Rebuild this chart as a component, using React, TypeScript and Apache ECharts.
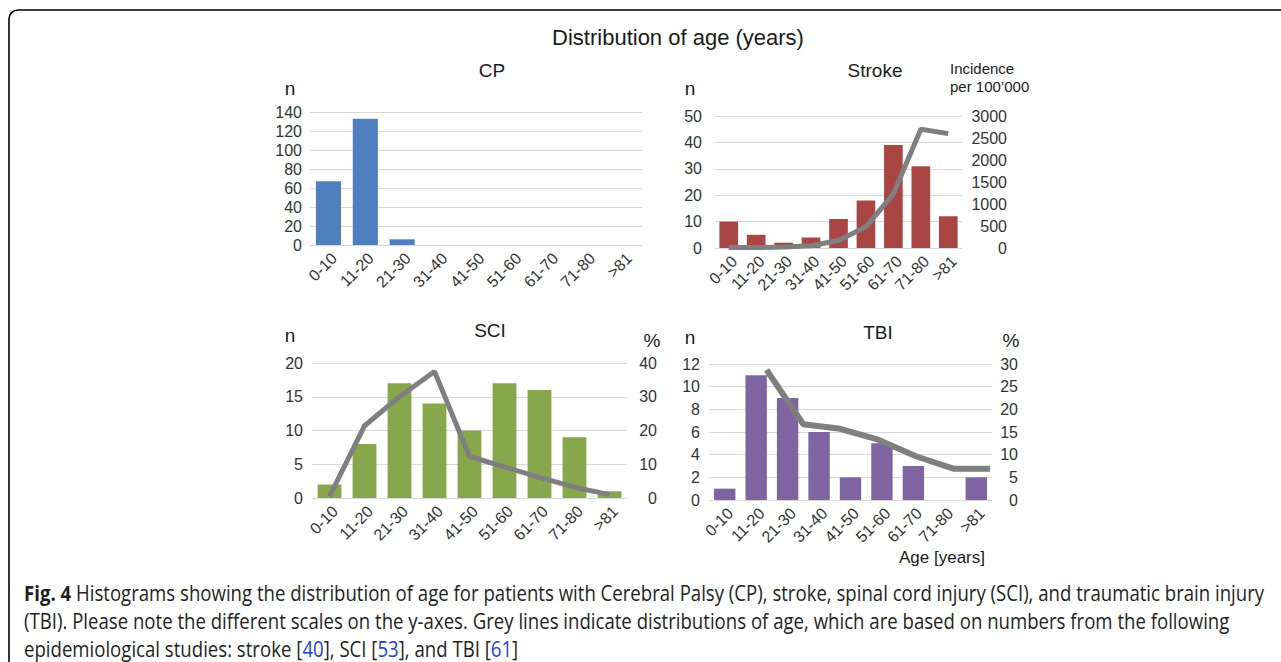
import React, { useEffect, useRef } from "react";
import * as echarts from "echarts";

const categories = ["0-10", "11-20", "21-30", "31-40", "41-50", "51-60", "61-70", "71-80", ">81"];
const cpCounts = [67, 133, 6, 0, 0, 0, 0, 0, 0];
const strokeCounts = [10, 5, 2, 4, 11, 18, 39, 31, 12];
const strokeIncidence = [10, 10, 20, 50, 170, 480, 1230, 2700, 2600];
const sciCounts = [2, 8, 17, 14, 10, 17, 16, 9, 1];
const sciPercent = [0.5, 21.4, 30, 37.5, 12.3, 9.2, 6.1, 3.2, 1];
const tbiCounts = [1, 11, 9, 6, 2, 5, 3, 0, 2];
const tbiLinePos = [1.33, 2.5, 3.67, 4.88, 6.1, 7.27, 8.44];
const tbiPercent = [28.7, 16.7, 15.7, 13.3, 9.6, 6.9, 6.9];

const captionLine1Bold = "Fig. 4";
const captionLine1 = " Histograms showing the distribution of age for patients with Cerebral Palsy (CP), stroke, spinal cord injury (SCI), and traumatic brain injury";
const captionLine2 = "(TBI). Please note the different scales on the y-axes. Grey lines indicate distributions of age, which are based on numbers from the following";
const captionLine3Parts = ["epidemiological studies: stroke [", "40", "], SCI [", "53", "], and TBI [", "61", "]"];

const FONT = "Arial";
const CAP_FONT = "Open Sans";
const CAP_SIZE = 21;
const LABEL_COLOR = "#333333";
const GRID_COLOR = "#d9d9d9";
const LINE_COLOR = "#7f7f7f";

export default function App() {
  const ref = useRef<HTMLDivElement>(null);

  useEffect(() => {
    document.body.style.margin = "0";
    if (!ref.current) return;
    const chart = echarts.init(ref.current, null, { renderer: "svg" });

    const cv = document.createElement("canvas");
    const ctx = cv.getContext("2d")!;
    ctx.font = `bold ${CAP_SIZE}px 'Open Sans'`;
    const wb = ctx.measureText(captionLine1Bold).width;
    ctx.font = `${CAP_SIZE}px 'Open Sans'`;
    const wn = ctx.measureText(captionLine1).width;
    const capScale = (1265 - 24) / (wb + wn);

    const gridsPx = [
      { left: 310, top: 112, width: 332, height: 133 },
      { left: 715, top: 116, width: 247, height: 132 },
      { left: 312, top: 363, width: 315, height: 135 },
      { left: 709, top: 364, width: 283, height: 136 },
    ];

    const catAxis = (gridIndex: number) => ({
      type: "category",
      gridIndex,
      data: categories,
      axisLine: { show: false },
      axisTick: { show: false },
      axisLabel: {
        rotate: 45,
        margin: 5,
        fontSize: 16,
        color: LABEL_COLOR,
        fontFamily: FONT,
        interval: 0,
        verticalAlign: "top",
      },
    });

    const valAxis = (gridIndex: number, max: number, interval: number, position: string, margin: number, split: boolean) => ({
      type: "value",
      gridIndex,
      position,
      min: 0,
      max,
      interval,
      axisLine: { show: false },
      axisTick: { show: false },
      splitLine: { show: split, lineStyle: { color: GRID_COLOR, width: 1 } },
      axisLabel: {
        fontSize: 16,
        color: LABEL_COLOR,
        fontFamily: FONT,
        margin,
        align: "right",
        formatter: (v: number) => String(v),
      },
    });

    const barColors = ["#4f80bd", "#a94643", "#87a74c", "#8064a2"];
    const barCounts = [cpCounts, strokeCounts, sciCounts, tbiCounts];

    const lineStyle = { color: LINE_COLOR, width: 5 };

    const textEl = (text: string, x: number, y: number, size: number, align = "center", color = "#1a1a1a") => ({
      type: "text",
      x,
      y,
      style: { text, fontSize: size, fontFamily: FONT, fill: color, align, verticalAlign: "middle" },
    });

    const option: any = {
      animation: false,
      backgroundColor: "#ffffff",
      grid: gridsPx.map((g) => ({ ...g, containLabel: false })),
      xAxis: [
        catAxis(0),
        catAxis(1),
        catAxis(2),
        catAxis(3),
        { type: "value", gridIndex: 3, min: -0.5, max: 8.5, show: false },
      ],
      yAxis: [
        valAxis(0, 140, 20, "left", 8, true),
        valAxis(1, 50, 10, "left", 13, true),
        valAxis(1, 3000, 500, "right", 45, false),
        valAxis(2, 20, 5, "left", 9, true),
        valAxis(2, 40, 10, "right", 30, false),
        valAxis(3, 12, 2, "left", 9, true),
        valAxis(3, 30, 5, "right", 26, false),
      ],
      series: [
        ...barCounts.map((d, i) => ({
          type: "bar",
          xAxisIndex: i,
          yAxisIndex: [0, 1, 3, 5][i],
          data: d,
          barCategoryGap: "32%",
          itemStyle: { color: barColors[i] },
          z: 2,
        })),
        {
          type: "line",
          xAxisIndex: 1,
          yAxisIndex: 2,
          data: strokeIncidence,
          showSymbol: false,
          symbol: "none",
          lineStyle,
          z: 3,
        },
        {
          type: "line",
          xAxisIndex: 2,
          yAxisIndex: 4,
          data: sciPercent,
          showSymbol: false,
          symbol: "none",
          lineStyle,
          z: 3,
        },
        {
          type: "line",
          xAxisIndex: 4,
          yAxisIndex: 6,
          data: tbiLinePos.map((x, i) => [x, tbiPercent[i]]),
          showSymbol: false,
          symbol: "none",
          lineStyle: { color: LINE_COLOR, width: 6 },
          z: 3,
        },
      ],
      graphic: [
        {
          type: "rect",
          shape: { x: 9, y: 10, width: 1320, height: 720, r: 9 },
          style: { fill: "none", stroke: "#000", lineWidth: 1.6 },
          silent: true,
        },
        textEl("Distribution of age (years)", 678, 37, 22),
        textEl("CP", 492, 70, 19),
        textEl("Stroke", 875, 70, 19),
        textEl("SCI", 490, 330, 19),
        textEl("TBI", 878, 332, 19),
        textEl("n", 290, 88, 19),
        textEl("n", 690, 88, 19),
        textEl("n", 290, 335, 19),
        textEl("n", 690, 337, 19),
        textEl("%", 652, 340, 19),
        textEl("%", 1011, 340, 19),
        textEl("Incidence", 950, 68, 15, "left"),
        textEl("per 100\u2019000", 950, 86, 15, "left"),
        textEl("Age [years]", 942, 557, 17),
        {
          type: "group",
          x: 24,
          y: 593,
          scaleX: capScale,
          children: [
            {
              type: "text",
              x: 0,
              y: 0,
              style: {
                text: "{b|" + captionLine1Bold + "}" + captionLine1,
                fontSize: CAP_SIZE,
                fontFamily: CAP_FONT,
                fill: "#231f20",
                verticalAlign: "middle",
                rich: { b: { fontWeight: "bold", fontSize: CAP_SIZE, fontFamily: CAP_FONT, fill: "#231f20" } },
              },
            },
          ],
        },
        {
          type: "group",
          x: 24,
          y: 621,
          scaleX: capScale,
          children: [
            {
              type: "text",
              x: 0,
              y: 0,
              style: { text: captionLine2, fontSize: CAP_SIZE, fontFamily: CAP_FONT, fill: "#231f20", verticalAlign: "middle" },
            },
          ],
        },
        {
          type: "group",
          x: 24,
          y: 649,
          scaleX: capScale,
          children: [
            {
              type: "text",
              x: 0,
              y: 0,
              style: {
                text: captionLine3Parts.map((p, i) => (i % 2 === 1 ? "{l|" + p + "}" : p)).join(""),
                fontSize: CAP_SIZE,
                fontFamily: CAP_FONT,
                fill: "#231f20",
                verticalAlign: "middle",
                rich: { l: { fontSize: CAP_SIZE, fontFamily: CAP_FONT, fill: "#2040d8" } },
              },
            },
          ],
        },
      ],
    };

    chart.setOption(option);
    return () => chart.dispose();
  }, []);

  return <div ref={ref} style={{ width: 1281, height: 662 }} />;
}
